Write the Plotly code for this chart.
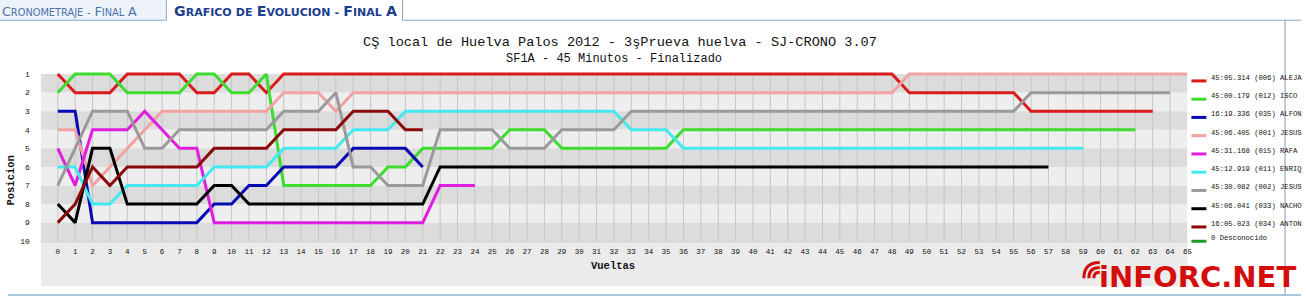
import plotly.graph_objects as go

# ---------------- data ----------------
laps = list(range(0, 66))
lap_labels = [str(v) for v in laps]
positions = list(range(1, 11))
pos_labels = [str(v) for v in positions]

names = ["ALEJA", "ISCO", "ALFON", "JESUS", "RAFA", "ENRIQ", "JESUS", "NACHO", "ANTON"]
numbers = ["006", "012", "035", "001", "015", "011", "002", "033", "034"]
times = ["45:05.314", "45:00.179", "16:19.336", "45:06.405", "45:31.168",
         "45:12.919", "45:30.082", "45:06.041", "16:05.023"]
colors = ["#d81b1b", "#3ddc2e", "#0a0ab4", "#f2a2a2", "#e01ee0",
          "#44e8f0", "#9a9a9a", "#000000", "#8a0a0a"]
unknown_label = "0 Desconocido"
unknown_color = "#1f9a2a"

aleja = [1, 2, 2, 2, 1, 1, 1, 1, 2, 2, 1, 1, 2,
         1, 1, 1, 1, 1, 1, 1, 1, 1, 1, 1, 1, 1, 1, 1, 1, 1, 1, 1, 1, 1, 1, 1, 1,
         1, 1, 1, 1, 1, 1, 1, 1, 1, 1, 1, 1,
         2, 2, 2, 2, 2, 2, 2,
         3, 3, 3, 3, 3, 3, 3, 3]
isco = [2, 1, 1, 1, 2, 2, 2, 2, 1, 1, 2, 2, 1,
        7, 7, 7, 7, 7, 7,
        6, 6,
        5, 5, 5, 5, 5,
        4, 4, 4,
        5, 5, 5, 5, 5, 5, 5,
        4, 4, 4, 4, 4, 4, 4, 4, 4, 4, 4, 4, 4, 4, 4, 4, 4, 4, 4, 4, 4, 4, 4, 4, 4, 4, 4]
alfon = [3, 3, 9, 9, 9, 9, 9, 9, 9, 8, 8, 7, 7, 6, 6, 6, 6, 5, 5, 5, 5, 6]
jesus1 = [4, 4, 7, 6, 5, 4, 3, 3, 3, 3, 3, 3, 3, 2, 2, 2, 3,
          2, 2, 2, 2, 2, 2, 2, 2, 2, 2, 2, 2, 2, 2, 2, 2,
          2, 2, 2, 2, 2, 2, 2, 2, 2, 2, 2, 2, 2, 2, 2, 2,
          1, 1, 1, 1, 1, 1, 1, 1, 1, 1, 1, 1, 1, 1, 1, 1, 1]
rafa = [5, 7, 4, 4, 4, 3, 4, 5, 5, 9, 9, 9, 9, 9, 9, 9, 9, 9, 9, 9, 9, 9, 7, 7, 7]
enriq = [6, 6, 8, 8, 7, 7, 7, 7, 7, 6, 6, 6, 6, 5, 5, 5, 5, 4, 4, 4,
         3, 3, 3, 3, 3, 3, 3, 3, 3, 3, 3, 3, 3,
         4, 4, 4,
         5, 5, 5, 5, 5, 5, 5, 5, 5, 5, 5, 5, 5, 5, 5, 5, 5, 5, 5, 5, 5, 5, 5, 5]
jesus2 = [7, 5, 3, 3, 3, 5, 5, 4, 4, 4, 4, 4, 4, 3, 3, 3, 2, 6, 6, 7, 7, 7,
          4, 4, 4, 4, 5, 5, 5, 4, 4, 4, 4,
          3, 3, 3, 3, 3, 3, 3, 3, 3, 3, 3, 3, 3, 3, 3, 3, 3, 3, 3, 3, 3, 3, 3,
          2, 2, 2, 2, 2, 2, 2, 2, 2]
nacho = [8, 9, 5, 5, 8, 8, 8, 8, 8, 7, 7, 8, 8, 8, 8, 8, 8, 8, 8, 8, 8, 8,
         6, 6, 6, 6, 6, 6, 6, 6, 6, 6, 6, 6, 6, 6, 6, 6, 6, 6,
         6, 6, 6, 6, 6, 6, 6, 6, 6, 6, 6, 6, 6, 6, 6, 6, 6, 6]
anton = [9, 8, 6, 7, 6, 6, 6, 6, 6, 5, 5, 5, 5, 4, 4, 4, 4, 3, 3, 3, 4, 4]

series = [aleja, isco, alfon, jesus1, rafa, enriq, jesus2, nacho, anton]

title_text = "CŞ local de Huelva Palos 2012 - 3şPrueva huelva - SJ-CRONO 3.07"
subtitle_text = "SF1A - 45 Minutos - Finalizado"
x_title = "Vueltas"
y_title = "Posicion"
tab1_words = [("C", "RONOMETRAJE"), ("", "-"), ("F", "INAL"), ("A", "")]
tab2_words = [("G", "RAFICO"), ("", "DE"), ("E", "VOLUCION"), ("", "-"), ("F", "INAL"), ("A", "")]
logo_text = "iNFORC.NET"

# ---------------- figure ----------------
W, H = 1306, 303
PL, PR, PT, PB = 41, 1192, 70, 245
MONO = "Liberation Mono"


def px(x):
    return x / W


def py(y):
    return 1 - y / H


fig = go.Figure()

for vals, name, col in zip(series, names, colors):
    fig.add_trace(go.Scatter(
        x=laps[:len(vals)], y=vals, mode="lines", name=name,
        line=dict(color=col, width=3), showlegend=False, hoverinfo="skip"))

shapes = []
# alternating bands
for p in positions[:-1]:
    shapes.append(dict(type="rect", xref="x", yref="y", x0=-1, x1=65, y0=p, y1=p + 1,
                       fillcolor="#dcdcdc" if p % 2 == 1 else "#eeeeee",
                       line=dict(width=0), layer="below"))
# vertical grid lines
for l in laps[:-1]:
    shapes.append(dict(type="line", xref="x", yref="y", x0=l, x1=l, y0=1, y1=10,
                       line=dict(color="#c6c6c6", width=1), layer="below"))
# bottom grey panel
shapes.append(dict(type="rect", xref="paper", yref="paper", x0=px(PL), x1=px(PR),
                   y0=py(290), y1=py(PB), fillcolor="#ebebeb", line=dict(width=0), layer="below"))
shapes.append(dict(type="line", xref="paper", yref="paper", x0=px(PL), x1=px(PR),
                   y0=py(PB), y1=py(PB), line=dict(color="#c8c8c8", width=1), layer="below"))

# tabs & frame
frame = "#8aa6c8"
shapes.append(dict(type="rect", xref="paper", yref="paper", x0=px(-2), x1=px(167),
                   y0=py(20.5), y1=py(-2), fillcolor="#eef2f9", line=dict(color=frame, width=1)))
shapes.append(dict(type="line", xref="paper", yref="paper", x0=px(404), x1=px(404),
                   y0=py(0), y1=py(20.5), line=dict(color=frame, width=1)))
shapes.append(dict(type="line", xref="paper", yref="paper", x0=px(404), x1=px(1306),
                   y0=py(20.5), y1=py(20.5), line=dict(color=frame, width=1)))
shapes.append(dict(type="line", xref="paper", yref="paper", x0=px(1290), x1=px(1290),
                   y0=py(20.5), y1=py(299), line=dict(color="#7d9cc4", width=1)))
shapes.append(dict(type="line", xref="paper", yref="paper", x0=px(8), x1=px(1306),
                   y0=py(299), y1=py(299), line=dict(color="#8fb3cc", width=1.5)))

# legend swatches
leg_y = [79, 97.5, 116, 134.5, 153, 171.5, 190, 208.5, 227, 241.5]
leg_cols = colors + [unknown_color]
for yy, col in zip(leg_y, leg_cols):
    shapes.append(dict(type="line", xref="paper", yref="paper", x0=px(1196), x1=px(1211),
                       y0=py(yy + 3), y1=py(yy + 3), line=dict(color=col, width=3)))

# logo arcs (wifi mark above the "i")
for r in (6, 11, 16):
    cx, cy = 1104, 282
    shapes.append(dict(type="path", xref="paper", yref="paper",
                       path=f"M {px(cx - r)} {py(cy)} Q {px(cx - r)} {py(cy - r)} {px(cx)} {py(cy - r)}",
                       line=dict(color="#d40d0d", width=3)))

annotations = []


def ann(x, y, text, size, family=MONO, color="#111", xanchor="center", yanchor="middle", **kw):
    annotations.append(dict(x=px(x), y=py(y), xref="paper", yref="paper", text=text,
                            xanchor=xanchor, yanchor=yanchor, showarrow=False,
                            font=dict(family=family, size=size, color=color), **kw))


ann(622, 43, title_text, 13.6)
ann(616, 60, subtitle_text, 12)
ann(11, 183, "<b>" + y_title + "</b>", 10.5, textangle=-90)
ann(615, 270, "<b>" + x_title + "</b>", 10.5)

# legend texts
leg_texts = [f"{t} ({n}) {nm}" for t, n, nm in zip(times, numbers, names)] + [unknown_label]
for yy, t in zip(leg_y, leg_texts):
    ann(1214, yy, t, 7.2, xanchor="left")


def smallcaps(words, big, small):
    out = []
    for b, s in words:
        part = ""
        if b:
            part += f"<span style='font-size:{big}px'>{b}</span>"
        if s:
            part += f"<span style='font-size:{small}px'>{s}</span>"
        out.append(part)
    return " ".join(out)


ann(0, 12, smallcaps(tab1_words, 12.7, 9.8), 12, family="DejaVu Sans", color="#4a72aa", xanchor="left")
ann(173, 11.5, "<b>" + smallcaps(tab2_words, 14.2, 11) + "</b>", 12, family="DejaVu Sans",
    color="#1d3e8e", xanchor="left")
# logo
ann(1303, 300, "<b>" + logo_text + "</b>", 29, family="DejaVu Sans", color="#d40d0d",
    xanchor="right", yanchor="bottom")

fig.update_layout(
    width=W, height=H, margin=dict(l=0, r=0, t=0, b=0),
    paper_bgcolor="white", plot_bgcolor="rgba(0,0,0,0)",
    shapes=shapes, annotations=annotations,
    xaxis=dict(domain=[px(PL), px(PR)], range=[-0.975, 65], tickvals=laps, ticktext=lap_labels,
               showgrid=False, zeroline=False, showline=False, ticks="",
               ticklabelstandoff=4,
               tickfont=dict(family=MONO, size=7.5, color="#111"), fixedrange=True),
    yaxis=dict(domain=[py(PB), py(PT)], range=[10.03, 0.73], tickvals=positions, ticktext=pos_labels,
               showgrid=False, zeroline=False, showline=False, ticks="",
               ticklabelstandoff=10,
               tickfont=dict(family=MONO, size=8, color="#111"), fixedrange=True),
    showlegend=False,
)

fig.write_html("out.html")
